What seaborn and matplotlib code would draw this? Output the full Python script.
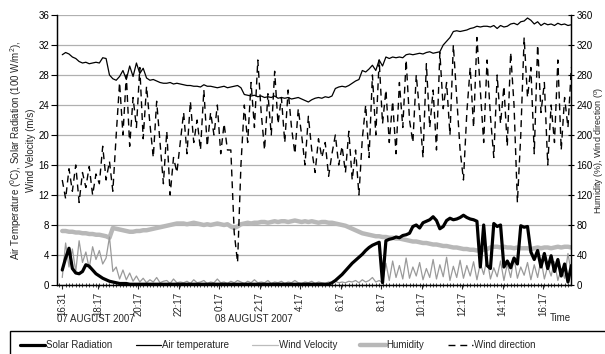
import numpy as np
import pandas as pd
import matplotlib
matplotlib.use("Agg")
import matplotlib.pyplot as plt
import seaborn as sns
from matplotlib.lines import Line2D
from matplotlib.patches import Rectangle
from matplotlib.ticker import MultipleLocator

START = "16:31"
STEP_MIN = 10

air_temperature = [
    30.7, 31.0, 30.8, 30.4, 30.2, 29.8,
    29.6, 29.7, 29.5, 29.6, 29.7, 29.6,
    30.3, 30.2, 28.0, 27.5, 27.3, 27.8,
    28.6, 27.4, 29.2, 27.8, 29.6, 28.2,
    28.9, 27.6, 27.3, 27.4, 27.2, 27.0,
    26.9, 26.9, 27.0, 26.8, 26.9, 26.8,
    26.7, 26.6, 26.6, 26.5, 26.5, 26.4,
    26.7, 26.5, 26.5, 26.4, 26.3, 26.4,
    26.5, 26.3, 26.4, 26.5, 26.6, 26.3,
    25.4, 25.3, 25.2, 25.3, 25.1, 25.2,
    25.0, 25.1, 25.0, 25.2, 24.9, 25.0,
    24.9, 25.0, 24.8, 24.9, 25.0, 24.8,
    24.6, 24.4, 24.7, 24.9, 25.0, 24.9,
    25.1, 25.0, 25.2, 26.2, 26.4, 26.5,
    26.4, 26.6, 26.9, 27.2, 27.4, 28.6,
    28.4, 28.8, 29.3, 28.6, 30.0, 29.2,
    30.4, 30.2, 30.4, 30.3, 30.4, 30.3,
    30.7, 30.8, 30.7, 30.8, 30.9, 30.8,
    31.0, 31.1, 30.9, 31.0, 31.1, 32.0,
    32.5, 33.0, 33.8, 33.9, 33.8, 33.9,
    34.0, 34.2, 34.3, 34.5, 34.4, 34.5,
    34.5, 34.4, 34.6, 34.2, 34.6, 34.4,
    34.5, 34.8, 34.9, 34.7, 35.1, 35.2,
    35.6, 35.3, 34.8, 35.1, 34.6, 34.9,
    34.7, 34.8, 34.6, 34.9, 34.7, 34.8,
    34.6, 34.7,
]

solar_radiation = [
    2.0, 3.6, 4.9, 2.2, 1.6, 1.5,
    1.8, 2.7, 2.5, 2.0, 1.5, 1.2,
    0.9, 0.7, 0.5, 0.4, 0.3, 0.2,
    0.2, 0.2, 0.1, 0.1, 0.1, 0.1,
    0.1, 0.1, 0.1, 0.1, 0.1, 0.1,
    0.1, 0.1, 0.1, 0.1, 0.1, 0.1,
    0.1, 0.1, 0.1, 0.1, 0.1, 0.1,
    0.1, 0.1, 0.1, 0.1, 0.1, 0.1,
    0.1, 0.1, 0.1, 0.1, 0.1, 0.1,
    0.1, 0.1, 0.1, 0.1, 0.1, 0.1,
    0.1, 0.1, 0.1, 0.1, 0.1, 0.1,
    0.1, 0.1, 0.1, 0.1, 0.1, 0.1,
    0.1, 0.1, 0.1, 0.1, 0.1, 0.1,
    0.1, 0.1, 0.3, 0.6, 1.0, 1.4,
    1.9, 2.4, 2.9, 3.3, 3.7, 4.1,
    4.6, 5.0, 5.3, 5.5, 5.7, 0.3,
    5.9, 6.1, 6.2, 6.4, 6.3, 6.6,
    6.7, 6.9, 7.8, 8.0, 7.6, 8.3,
    8.5, 8.7, 9.1, 8.6, 7.5, 7.8,
    8.6, 8.9, 8.7, 8.8, 9.0, 9.3,
    9.0, 8.8, 8.7, 8.5, 2.4, 8.0,
    2.6, 2.2, 8.2, 7.8, 8.0, 2.4,
    3.2, 2.3, 3.6, 2.8, 7.9, 7.7,
    7.8, 4.4, 3.4, 4.6, 2.4, 4.2,
    2.2, 3.9, 1.8, 3.4, 1.2, 2.8,
    0.4, 2.6,
]

wind_velocity = [
    1.0, 5.6, 2.4, 4.8, 1.8, 5.9,
    3.0, 4.4, 2.2, 5.1, 3.4, 4.6,
    2.8, 3.6, 6.4, 1.8, 2.4, 0.8,
    2.0, 0.7, 1.6, 0.5, 1.2, 0.4,
    0.9, 0.3, 0.7, 0.4, 1.0, 0.3,
    0.5, 0.6, 0.2, 0.8, 0.3, 0.4,
    0.3, 0.5, 0.2, 0.7, 0.3, 0.4,
    0.6, 0.2, 0.4, 0.3, 0.8, 0.3,
    0.4, 0.2, 0.5, 0.3, 0.6, 0.4,
    0.2, 0.5, 0.3, 0.7, 0.3, 0.4,
    0.3, 0.6, 0.2, 0.4, 0.3, 0.5,
    0.2, 0.4, 0.3, 0.6, 0.3, 0.2,
    0.4, 0.3, 0.5, 0.2, 0.4, 0.3,
    0.2, 0.4, 0.3, 0.5, 0.3, 0.4,
    0.3, 0.5, 0.4, 0.6, 0.3, 0.7,
    0.4, 0.6, 1.0, 0.4, 0.6, 0.3,
    2.9, 0.6, 3.2, 1.0, 2.6, 0.8,
    3.6, 0.9, 2.4, 1.2, 3.0, 0.7,
    2.2, 1.0, 3.4, 0.8, 2.7, 1.1,
    3.7, 0.6, 2.5, 1.0, 3.3, 0.9,
    2.6, 1.2, 3.1, 0.7, 2.9, 1.4,
    3.5, 0.8, 2.3, 1.1, 3.2, 0.6,
    2.8, 1.0, 3.6, 0.9, 2.4, 1.3,
    3.0, 0.7, 2.7, 1.0, 3.4, 0.8,
    2.5, 1.2, 3.1, 0.6, 2.2, 0.9,
    4.2, 1.5,
]

humidity = [
    72, 72, 71, 71, 70, 70,
    69, 69, 68, 68, 67, 67,
    66, 65, 63, 76, 75, 74,
    73, 72, 71, 71, 72, 72,
    73, 73, 74, 75, 76, 77,
    78, 79, 80, 81, 82, 82,
    82, 81, 82, 83, 82, 81,
    80, 81, 80, 81, 82, 81,
    80, 81, 78, 76, 78, 81,
    82, 83, 82, 83, 83, 84,
    84, 83, 84, 85, 84, 85,
    85, 84, 85, 86, 85, 84,
    85, 84, 85, 84, 83, 84,
    84, 83, 83, 82, 81, 80,
    79, 77, 75, 73, 71, 69,
    68, 67, 66, 65, 65, 64,
    64, 63, 63, 62, 62, 61,
    60, 59, 58, 58, 57, 56,
    56, 55, 54, 54, 53, 52,
    52, 51, 50, 50, 49, 48,
    48, 47, 47, 46, 46, 47,
    48, 50, 51, 51, 50, 51,
    50, 50, 49, 50, 49, 49,
    49, 48, 49, 50, 49, 50,
    50, 49, 50, 51, 50, 51,
    51, 50,
]

wind_direction = [
    140, 115, 155, 125, 160, 110,
    150, 130, 158, 120, 148, 135,
    185, 140, 165, 125, 200, 270,
    200, 280, 185, 250, 210, 290,
    195, 265, 215, 170, 245, 190,
    135, 205, 120, 170, 150, 190,
    230, 175, 245, 190, 220, 180,
    260, 185, 230, 200, 240, 175,
    215, 180, 180, 70, 30, 160,
    240, 190, 270, 210, 300, 230,
    180, 255, 200, 285, 215, 250,
    190, 260, 210, 175, 235, 200,
    160, 225, 180, 150, 195, 170,
    190, 145, 175, 200, 160, 185,
    150, 205, 140, 180, 120, 195,
    240, 170, 280, 200, 300, 215,
    260, 190, 245, 175, 270, 210,
    300, 220, 190, 280, 230, 170,
    295, 210, 260, 180, 310, 235,
    270, 200, 320, 250, 180, 140,
    230, 290, 210, 330, 260, 190,
    300, 225, 170, 280, 215, 265,
    185, 310, 240, 110, 200, 330,
    250, 290, 175, 320, 230, 270,
    160, 240, 190, 300, 180, 250,
    210, 290,
]

tick_labels = ["16:31", "18:17", "20:17", "22:17", "0:17", "2:17", "4:17",
               "6:17", "8:17", "10:17", "12:17", "14:17", "16:17"]
date_labels = ["07 AUGUST 2007", "08 AUGUST 2007"]
series_names = ["Solar Radiation", "Air temperature", "Wind Velocity",
                "Humidity", "Wind direction"]
left_label = ("Air Temperature ($\\mathregular{^{0}}$C), Solar Radiation (100 W/m$\\mathregular{^{2}}$),\n"
              "Wind Velocity (m/s)")
right_label = "Humidity (%), Wind direction ($\\mathregular{^{0}}$)"


def hours_since_start(label):
    h, m = map(int, label.split(":"))
    sh, sm = map(int, START.split(":"))
    d = (h * 60 + m) - (sh * 60 + sm)
    if d < 0:
        d += 24 * 60
    return d / 60.0


n = len(air_temperature)
df = pd.DataFrame({
    "hours": np.arange(n) * STEP_MIN / 60.0,
    "solar": solar_radiation,
    "air": air_temperature,
    "wind_v": wind_velocity,
    "hum": humidity,
    "wind_d": wind_direction,
})

sns.set_style("white")
plt.rcParams["font.family"] = ["Liberation Sans", "DejaVu Sans"]
plt.rcParams["mathtext.fontset"] = "custom"
plt.rcParams["mathtext.rm"] = "Liberation Sans"
FS = 7

W, H = 605, 354
fig = plt.figure(figsize=(W / 100, H / 100), dpi=100)
x0, x1, yt, yb = 57, 571, 15, 285
ax = fig.add_axes([x0 / W, 1 - yb / H, (x1 - x0) / W, (yb - yt) / H])
ax2 = ax.twinx()

# right axis series (drawn underneath)
sns.lineplot(data=df, x="hours", y="hum", ax=ax2, color="#b8b8b8", lw=3.2,
             estimator=None, zorder=2)
sns.lineplot(data=df, x="hours", y="wind_d", ax=ax2, color="black", lw=1.0,
             linestyle=(0, (5, 3.5)), estimator=None, zorder=3)
# left axis series
sns.lineplot(data=df, x="hours", y="wind_v", ax=ax, color="#9a9a9a", lw=0.9,
             estimator=None, zorder=2)
sns.lineplot(data=df, x="hours", y="air", ax=ax, color="black", lw=0.9,
             estimator=None, zorder=3)
sns.lineplot(data=df, x="hours", y="solar", ax=ax, color="black", lw=2.3,
             estimator=None, zorder=4)

ax.set_zorder(ax2.get_zorder() + 1)
ax.patch.set_visible(False)
ax2.patch.set_visible(True)
ax2.patch.set_facecolor("white")

ax.set_xlim(-0.26, 25.15)
ax.set_ylim(0, 36)
ax2.set_ylim(0, 360)
ax.set_yticks(np.arange(0, 37, 4))
ax2.set_yticks(np.arange(0, 361, 40))
ax.set_xticks([hours_since_start(t) for t in tick_labels])
ax.set_xticklabels(tick_labels, rotation=90, fontsize=FS)
ax.xaxis.set_minor_locator(MultipleLocator(STEP_MIN / 60.0))
ax.set_xlabel("")
ax.set_ylabel("")
ax2.set_ylabel("")

ax.grid(False)
ax2.grid(False)
ax2.yaxis.grid(True, color="#b0b0b0", lw=0.9)
ax2.set_axisbelow(True)

for a in (ax, ax2):
    for s in ("left", "right", "bottom"):
        a.spines[s].set_color("black")
        a.spines[s].set_linewidth(0.9)
    a.spines["top"].set_visible(False)

ax.tick_params(axis="y", direction="out", length=4, width=0.8, pad=1.5,
               labelsize=FS, left=True, colors="black")
ax2.tick_params(axis="y", direction="inout", length=5, width=0.8, pad=1.5,
                labelsize=FS, right=True, colors="black")
ax.tick_params(axis="x", which="major", direction="out", length=3, width=0.8,
               pad=2, labelsize=FS, bottom=True)
ax.tick_params(axis="x", which="minor", direction="inout", length=3, width=0.6,
               bottom=True)

fig.text(22 / W, 1 - 150 / H, left_label, rotation=90, ha="center", va="center",
         fontsize=FS, multialignment="center")
fig.text(599 / W, 1 - 150 / H, right_label, rotation=90, ha="center",
         va="center", fontsize=6.5)

fig.text(57 / W, 1 - 319 / H, date_labels[0], ha="left", va="center", fontsize=FS)
fig.text(215 / W, 1 - 319 / H, date_labels[1], ha="left", va="center", fontsize=FS)
fig.text(550 / W, 1 - 318 / H, "Time", ha="left", va="center", fontsize=FS)

handles = [
    Line2D([], [], color="black", lw=2.3),
    Line2D([], [], color="black", lw=0.9),
    Line2D([], [], color="#bcbcbc", lw=0.9),
    Line2D([], [], color="#b8b8b8", lw=3.2),
    Line2D([], [], color="black", lw=1.0, linestyle=(0, (5, 3.5))),
]
fig.legend(handles, series_names, loc="center left",
           bbox_to_anchor=(20 / W, 1 - 345 / H), ncol=5, frameon=False,
           fontsize=FS, handlelength=2.6, handletextpad=0.1,
           columnspacing=2.4, borderaxespad=0, borderpad=0)
fig.add_artist(Rectangle((10 / W, -0.2), 1.0, 0.2 + (1 - 331 / H),
                         transform=fig.transFigure, fill=False,
                         edgecolor="black", lw=1.0))

fig.savefig("out.png", dpi=100)
